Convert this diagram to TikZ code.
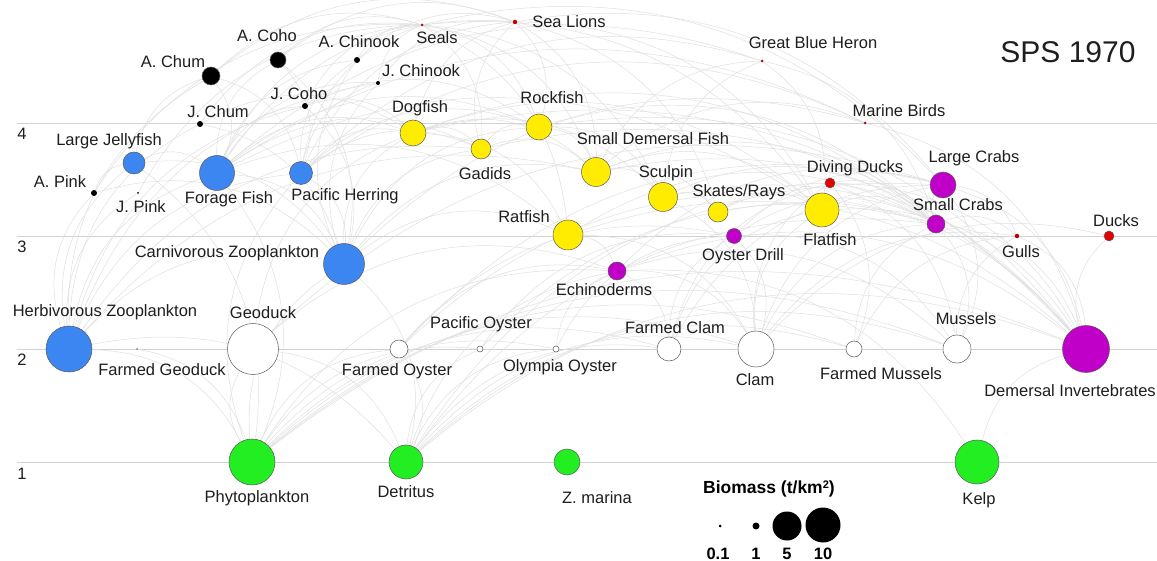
\documentclass[tikz,border=0pt]{standalone}
\usepackage{fontspec}
\setmainfont{Liberation Sans}
\pgfdeclarelayer{bg}
\pgfsetlayers{bg,main}
\definecolor{sblue}{RGB}{59,134,240}
\definecolor{syellow}{RGB}{255,236,0}
\definecolor{spurple}{RGB}{192,0,200}
\definecolor{sgreen}{RGB}{34,238,34}
\definecolor{sred}{RGB}{230,0,0}
\definecolor{sdred}{RGB}{165,20,20}
\definecolor{txt}{RGB}{30,30,30}
\begin{document}
\begin{tikzpicture}[x=1pt,y=-1pt,
  sp/.style={circle,draw=black!65,line width=0.5pt,inner sep=0pt},
  dot/.style={circle,inner sep=0pt},
  lbl/.style={font=\fontsize{16.5}{18}\selectfont,text=txt,inner sep=0pt,anchor=base},
  lvl/.style={font=\fontsize{16.5}{18}\selectfont,text=txt,inner sep=0pt,anchor=base},
  leg/.style={font=\bfseries\fontsize{16.5}{18}\selectfont,text=black,inner sep=0pt,anchor=base},
  edge/.style={draw=gray!24,line width=0.5pt},
  gridl/.style={draw=gray!35,line width=0.7pt}]
\useasboundingbox (0,0) rectangle (1157,561);

% nodes
\node[sp,fill=black,minimum size=18pt] (achum) at (211,76) {};
\node[sp,fill=black,minimum size=16pt] (acoho) at (278,60) {};
\node[dot,fill=black,minimum size=6pt] (achinook) at (357,60) {};
\node[dot,fill=black,minimum size=4pt] (jchinook) at (378,83) {};
\node[dot,fill=black,minimum size=6pt] (jcoho) at (305,106) {};
\node[dot,fill=black,minimum size=6pt] (jchum) at (200,124) {};
\node[dot,fill=black,minimum size=6pt] (apink) at (94,193) {};
\node[dot,fill=black,minimum size=2pt] (jpink) at (138,193) {};
\node[dot,fill=sdred,minimum size=3pt] (seals) at (422,25) {};
\node[dot,fill=sred!85!black,minimum size=4.5pt] (sealions) at (515,22) {};
\node[dot,fill=sdred,minimum size=3pt] (gbh) at (762,61) {};
\node[dot,fill=sdred,minimum size=3pt] (mbirds) at (865,123) {};
\node[dot,fill=sred!80!black,minimum size=4.5pt] (gulls) at (1017,236) {};
\node[sp,fill=sred,minimum size=10pt] (ducks) at (1109,236) {};
\node[sp,fill=sred,minimum size=10pt] (dducks) at (830,183) {};
\node[sp,fill=sblue,minimum size=22pt] (ljelly) at (134,163) {};
\node[sp,fill=sblue,minimum size=35pt] (forage) at (217,173) {};
\node[sp,fill=sblue,minimum size=23pt] (herring) at (301,173) {};
\node[sp,fill=sblue,minimum size=41pt] (czoo) at (344,264) {};
\node[sp,fill=sblue,minimum size=46pt] (hzoo) at (69,349) {};
\node[dot,fill=gray,minimum size=2pt] (fgeo) at (137,349) {};
\node[sp,fill=white,minimum size=51pt] (geoduck) at (253,349) {};
\node[sp,fill=white,minimum size=18pt] (foyster) at (399,349) {};
\node[sp,fill=white,minimum size=6pt] (poyster) at (480,349) {};
\node[sp,fill=white,minimum size=6pt] (ooyster) at (556,349) {};
\node[sp,fill=white,minimum size=24pt] (fclam) at (669,349) {};
\node[sp,fill=white,minimum size=36pt] (clam) at (756,349) {};
\node[sp,fill=white,minimum size=16pt] (fmussel) at (854,349) {};
\node[sp,fill=white,minimum size=28pt] (mussel) at (957,349) {};
\node[sp,fill=spurple,minimum size=47pt] (dinv) at (1086,349) {};
\node[sp,fill=sgreen,minimum size=46pt] (phyto) at (252,462) {};
\node[sp,fill=sgreen,minimum size=34pt] (detritus) at (406,462) {};
\node[sp,fill=sgreen,minimum size=26pt] (zmarina) at (567,462) {};
\node[sp,fill=sgreen,minimum size=44pt] (kelp) at (977,462) {};
\node[sp,fill=syellow,minimum size=26pt] (dogfish) at (413,133) {};
\node[sp,fill=syellow,minimum size=26pt] (rockfish) at (539,127) {};
\node[sp,fill=syellow,minimum size=20pt] (gadids) at (481,149) {};
\node[sp,fill=syellow,minimum size=29pt] (sdf) at (596,172) {};
\node[sp,fill=syellow,minimum size=29pt] (sculpin) at (663,197) {};
\node[sp,fill=syellow,minimum size=20pt] (skates) at (718,212) {};
\node[sp,fill=syellow,minimum size=30pt] (ratfish) at (568,235) {};
\node[sp,fill=syellow,minimum size=34pt] (flatfish) at (822,210) {};
\node[sp,fill=spurple,minimum size=15pt] (odrill) at (734,236) {};
\node[sp,fill=spurple,minimum size=18pt] (echino) at (617,271) {};
\node[sp,fill=spurple,minimum size=26pt] (lcrabs) at (943,185) {};
\node[sp,fill=spurple,minimum size=18pt] (scrabs) at (936,224) {};

% background: white page, level lines, edges
\begin{pgfonlayer}{bg}
\fill[white] (0,0) rectangle (1157,561);
\draw[gridl] (17,123) -- (1157,123);
\draw[gridl] (17,236) -- (1157,236);
\draw[gridl] (17,349) -- (1157,349);
\draw[gridl] (17,462) -- (1157,462);
\foreach \a/\b in {hzoo/phyto, fgeo/phyto, phyto/geoduck, phyto/foyster, phyto/poyster, phyto/ooyster, phyto/fclam, phyto/clam, phyto/fmussel, phyto/mussel, phyto/dinv, phyto/czoo, phyto/herring, forage/phyto, ljelly/phyto, phyto/echino,
hzoo/detritus, geoduck/detritus, foyster/detritus, detritus/poyster, detritus/ooyster, detritus/fclam, detritus/clam, detritus/fmussel, detritus/mussel, detritus/dinv, detritus/echino, czoo/detritus, detritus/scrabs, detritus/lcrabs,
kelp/dinv, echino/kelp,
hzoo/czoo, hzoo/ljelly, hzoo/forage, hzoo/herring, hzoo/apink, hzoo/jpink, hzoo/jchum, hzoo/achum, hzoo/jcoho, hzoo/jchinook, hzoo/sdf, hzoo/gadids,
ljelly/czoo, forage/czoo, herring/czoo, jcoho/czoo, czoo/jchinook, czoo/achinook, acoho/czoo, jchum/czoo, czoo/gadids, czoo/dogfish, czoo/rockfish, czoo/sdf, czoo/ratfish, czoo/mbirds, apink/czoo,
achum/forage, forage/acoho, forage/achinook, forage/jcoho, forage/jchinook, forage/seals, forage/sealions, forage/dogfish, forage/gadids, forage/rockfish, forage/mbirds, forage/gbh, ljelly/forage, forage/flatfish, forage/ratfish,
acoho/herring, herring/achinook, herring/seals, herring/sealions, herring/dogfish, herring/rockfish, herring/gadids, herring/mbirds, herring/gbh, herring/jchinook, achum/herring,
ljelly/achum, apink/ljelly,
geoduck/echino, geoduck/lcrabs, geoduck/dogfish,
foyster/odrill, foyster/echino, foyster/lcrabs, foyster/scrabs,
poyster/odrill, poyster/scrabs, ooyster/odrill, ooyster/echino,
fclam/odrill, fclam/lcrabs, echino/fclam, fclam/flatfish, fclam/dducks,
clam/lcrabs, clam/scrabs, odrill/clam, clam/dducks, clam/flatfish, echino/clam, clam/gulls, ratfish/clam, sculpin/clam, clam/ducks,
fmussel/scrabs, dducks/fmussel, fmussel/gulls,
lcrabs/mussel, scrabs/mussel, dducks/mussel, mussel/gulls, odrill/mussel, echino/mussel,
flatfish/dinv, sculpin/dinv, sdf/dinv, skates/dinv, ratfish/dinv, lcrabs/dinv, scrabs/dinv, dducks/dinv, gulls/dinv, dinv/ducks, echino/dinv, gadids/dinv, rockfish/dinv, dogfish/dinv, mbirds/dinv,
echino/lcrabs, ratfish/echino, odrill/lcrabs, odrill/scrabs,
scrabs/lcrabs, flatfish/scrabs, sculpin/scrabs, skates/scrabs, scrabs/gulls, dducks/scrabs, gbh/scrabs, ratfish/scrabs, rockfish/scrabs, dogfish/scrabs, sdf/scrabs,
lcrabs/gulls, sealions/lcrabs, seals/lcrabs,
rockfish/sdf, dogfish/sdf, gadids/sdf, sdf/sculpin, sdf/flatfish, seals/sdf, sealions/sdf, sdf/gbh, sdf/mbirds, sdf/skates,
sculpin/gbh, seals/sculpin, rockfish/sculpin, dogfish/sculpin, sculpin/skates,
seals/flatfish, sealions/flatfish, gbh/flatfish, dogfish/flatfish, skates/flatfish,
seals/gadids, gadids/sealions, dogfish/gadids, gadids/rockfish,
dogfish/ratfish, seals/ratfish, sealions/skates, seals/rockfish, sealions/rockfish, dogfish/sealions,
jchum/seals, jchum/dogfish, jcoho/seals, jcoho/dogfish, jcoho/rockfish,
jchinook/seals, jchinook/sealions, jpink/seals, apink/seals,
achum/seals, achum/sealions, acoho/seals, acoho/sealions, achinook/seals, achinook/sealions}
  \draw[edge] (\a) to[bend left=30] (\b);
\end{pgfonlayer}

% level numbers
\node[lvl] (l4) at (22,140) {4};
\node[lvl] (l3) at (22,253) {3};
\node[lvl] (l2) at (22,366) {2};
\node[lvl] (l1) at (22,479) {1};

% labels
\node[lbl] (tachum) at (173,68) {A. Chum};
\node[lbl] (tacoho) at (267,42) {A. Coho};
\node[lbl] (tachinook) at (359,48) {A. Chinook};
\node[lbl] (tjchinook) at (421,77) {J. Chinook};
\node[lbl] (tseals) at (437,44) {Seals};
\node[lbl] (tsealions) at (569,28) {Sea Lions};
\node[lbl] (tjcoho) at (299,100) {J. Coho};
\node[lbl] (tjchum) at (218,118) {J. Chum};
\node[lbl] (tgbh) at (813,49) {Great Blue Heron};
\node[lbl] (tljelly) at (109,146) {Large Jellyfish};
\node[lbl] (tapink) at (60,188) {A. Pink};
\node[lbl] (tjpink) at (141,213) {J. Pink};
\node[lbl] (tforage) at (229,204) {Forage Fish};
\node[lbl] (therring) at (345,201) {Pacific Herring};
\node[lbl] (tczoo) at (227,258) {Carnivorous Zooplankton};
\node[lbl] (tdogfish) at (420,113) {Dogfish};
\node[lbl] (trockfish) at (552,104) {Rockfish};
\node[lbl] (tgadids) at (485,180) {Gadids};
\node[lbl] (tsdf) at (653,145) {Small Demersal Fish};
\node[lbl] (tsculpin) at (666,178) {Sculpin};
\node[lbl] (tskates) at (739,197) {Skates/Rays};
\node[lbl] (tratfish) at (524,223) {Ratfish};
\node[lbl] (todrill) at (743,261) {Oyster Drill};
\node[lbl] (techino) at (604,296) {Echinoderms};
\node[lbl] (tmbirds) at (899,117) {Marine Birds};
\node[lbl] (tdducks) at (855,173) {Diving Ducks};
\node[lbl] (tlcrabs) at (974,163) {Large Crabs};
\node[lbl] (tflatfish) at (830,246) {Flatfish};
\node[lbl] (tscrabs) at (958,211) {Small Crabs};
\node[lbl] (tgulls) at (1021,258) {Gulls};
\node[lbl] (tducks) at (1116,227) {Ducks};
\node[lbl,font=\fontsize{30}{32}\selectfont] (title) at (1068,63) {SPS 1970};
\node[lbl] (thzoo) at (105,317) {Herbivorous Zooplankton};
\node[lbl] (tfgeo) at (162,376) {Farmed Geoduck};
\node[lbl] (tgeoduck) at (263,319) {Geoduck};
\node[lbl] (tfoyster) at (397,375) {Farmed Oyster};
\node[lbl] (tpoyster) at (481,329) {Pacific Oyster};
\node[lbl] (tooyster) at (560,372) {Olympia Oyster};
\node[lbl] (tfclam) at (675,334) {Farmed Clam};
\node[lbl] (tclam) at (755,385) {Clam};
\node[lbl] (tfmussel) at (881,380) {Farmed Mussels};
\node[lbl] (tmussel) at (966,325) {Mussels};
\node[lbl] (tdinv) at (1070,396) {Demersal Invertebrates};
\node[lbl] (tphyto) at (257,502) {Phytoplankton};
\node[lbl] (tdetritus) at (406,497) {Detritus};
\node[lbl] (tzmarina) at (597,503) {Z. marina};
\node[lbl] (tkelp) at (979,504) {Kelp};

% legend
\node[leg,anchor=base west,font=\bfseries\fontsize{17.5}{20}\selectfont] (legtitle) at (703,493) {Biomass (t/km\raisebox{0.25em}{\fontsize{11}{12}\selectfont 2})};
\node[dot,fill=black,minimum size=3pt] (lg1) at (720,526) {};
\node[dot,fill=black,minimum size=7pt] (lg2) at (756,526) {};
\node[dot,fill=black,minimum size=29pt] (lg3) at (787,526) {};
\node[dot,fill=black,minimum size=35pt] (lg4) at (823,525) {};
\node[leg] (lt1) at (718,559) {0.1};
\node[leg] (lt2) at (756,559) {1};
\node[leg] (lt3) at (787,559) {5};
\node[leg] (lt4) at (823,559) {10};
\end{tikzpicture}
\end{document}
